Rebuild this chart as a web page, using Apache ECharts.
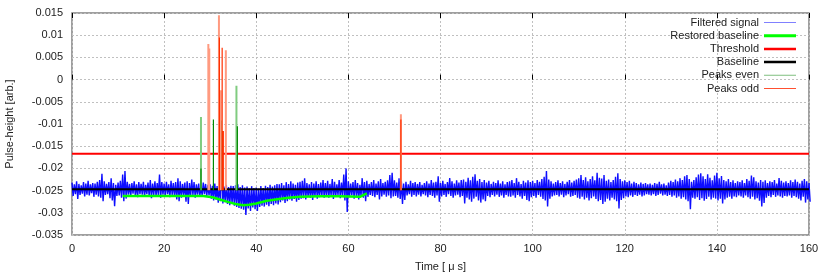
<!DOCTYPE html>
<html>
<head>
<meta charset="utf-8">
<script src="https://cdn.jsdelivr.net/npm/echarts@6/dist/echarts.min.js"></script>
<style>html,body{margin:0;padding:0;background:#fff}#c{width:830px;height:277px}</style>
</head>
<body>
<div id="c"></div>
<script>
// ---- data ----
const xTicks = [0, 20, 40, 60, 80, 100, 120, 140, 160];
const yTicks = [-0.035, -0.03, -0.025, -0.02, -0.015, -0.01, -0.005, 0, 0.005, 0.01, 0.015];
const sigStep = 0.5; // μs between envelope samples
// upper envelope of filtered signal, every 0.5 μs from 0 to 160
const sigHi = [
-0.0232,-0.0236,-0.0229,-0.0235,-0.0238,-0.0231,-0.0234,-0.0228,-0.0236,-0.0233,
-0.0234,-0.0230,-0.0226,-0.0212,-0.0229,-0.0235,-0.0231,-0.0222,-0.0233,-0.0237,
-0.0232,-0.0228,-0.0214,-0.0206,-0.0230,-0.0235,-0.0233,-0.0229,-0.0236,-0.0231,
-0.0235,-0.0230,-0.0237,-0.0232,-0.0226,-0.0234,-0.0229,-0.0233,-0.0214,-0.0231,
-0.0234,-0.0230,-0.0236,-0.0228,-0.0233,-0.0231,-0.0222,-0.0229,-0.0235,-0.0232,
-0.0229,-0.0233,-0.0225,-0.0231,-0.0236,-0.0234,-0.0238,-0.0232,-0.0235,-0.0237,
-0.0236,-0.0239,-0.0234,-0.0240,-0.0238,-0.0155,-0.0241,-0.0237,-0.0242,-0.0239,
-0.0240,-0.0238,-0.0236,-0.0242,-0.0238,-0.0243,-0.0241,-0.0245,-0.0240,-0.0244,
-0.0243,-0.0246,-0.0240,-0.0244,-0.0239,-0.0242,-0.0237,-0.0241,-0.0238,-0.0235,
-0.0236,-0.0233,-0.0238,-0.0231,-0.0235,-0.0229,-0.0234,-0.0237,-0.0232,-0.0230,
-0.0228,-0.0222,-0.0233,-0.0236,-0.0231,-0.0234,-0.0229,-0.0235,-0.0232,-0.0226,
-0.0233,-0.0228,-0.0235,-0.0224,-0.0230,-0.0236,-0.0226,-0.0232,-0.0214,-0.0200,
-0.0229,-0.0234,-0.0231,-0.0226,-0.0233,-0.0237,-0.0222,-0.0231,-0.0228,-0.0235,
-0.0231,-0.0226,-0.0234,-0.0229,-0.0224,-0.0233,-0.0230,-0.0227,-0.0215,-0.0210,
-0.0227,-0.0232,-0.0222,-0.0229,-0.0234,-0.0230,-0.0236,-0.0228,-0.0233,-0.0231,
-0.0235,-0.0231,-0.0237,-0.0233,-0.0229,-0.0234,-0.0226,-0.0232,-0.0230,-0.0218,
-0.0233,-0.0228,-0.0235,-0.0231,-0.0222,-0.0229,-0.0234,-0.0227,-0.0232,-0.0226,
-0.0225,-0.0230,-0.0221,-0.0227,-0.0219,-0.0213,-0.0228,-0.0224,-0.0231,-0.0226,
-0.0232,-0.0228,-0.0235,-0.0230,-0.0233,-0.0227,-0.0234,-0.0229,-0.0236,-0.0231,
-0.0229,-0.0226,-0.0233,-0.0222,-0.0230,-0.0235,-0.0228,-0.0232,-0.0227,-0.0231,
-0.0228,-0.0233,-0.0226,-0.0230,-0.0224,-0.0219,-0.0206,-0.0225,-0.0229,-0.0234,
-0.0231,-0.0227,-0.0233,-0.0229,-0.0235,-0.0230,-0.0226,-0.0232,-0.0228,-0.0225,
-0.0222,-0.0215,-0.0226,-0.0220,-0.0229,-0.0224,-0.0218,-0.0227,-0.0210,-0.0221,
-0.0223,-0.0215,-0.0228,-0.0225,-0.0231,-0.0226,-0.0219,-0.0211,-0.0224,-0.0229,
-0.0227,-0.0231,-0.0228,-0.0234,-0.0230,-0.0233,-0.0236,-0.0232,-0.0235,-0.0233,
-0.0236,-0.0234,-0.0237,-0.0233,-0.0235,-0.0230,-0.0236,-0.0234,-0.0238,-0.0232,
-0.0228,-0.0231,-0.0225,-0.0229,-0.0222,-0.0226,-0.0218,-0.0215,-0.0224,-0.0230,
-0.0226,-0.0220,-0.0214,-0.0211,-0.0218,-0.0224,-0.0213,-0.0221,-0.0227,-0.0216,
-0.0210,-0.0222,-0.0217,-0.0226,-0.0229,-0.0224,-0.0231,-0.0227,-0.0233,-0.0229,
-0.0231,-0.0227,-0.0233,-0.0224,-0.0228,-0.0216,-0.0220,-0.0229,-0.0232,-0.0226,
-0.0230,-0.0227,-0.0233,-0.0229,-0.0231,-0.0226,-0.0234,-0.0222,-0.0228,-0.0232,
-0.0229,-0.0233,-0.0227,-0.0231,-0.0225,-0.0230,-0.0234,-0.0228,-0.0224,-0.0229,-0.0233
];
// lower envelope of filtered signal, same sampling
const sigLo = [
-0.0262,-0.0258,-0.0269,-0.0260,-0.0257,-0.0263,-0.0259,-0.0261,-0.0256,-0.0264,
-0.0259,-0.0263,-0.0266,-0.0274,-0.0260,-0.0258,-0.0267,-0.0272,-0.0285,-0.0262,
-0.0261,-0.0266,-0.0274,-0.0268,-0.0259,-0.0263,-0.0257,-0.0262,-0.0265,-0.0258,
-0.0259,-0.0264,-0.0258,-0.0262,-0.0267,-0.0260,-0.0263,-0.0261,-0.0266,-0.0259,
-0.0262,-0.0258,-0.0265,-0.0260,-0.0263,-0.0270,-0.0274,-0.0266,-0.0261,-0.0275,
-0.0280,-0.0263,-0.0260,-0.0266,-0.0259,-0.0264,-0.0262,-0.0258,-0.0263,-0.0261,
-0.0268,-0.0272,-0.0270,-0.0277,-0.0274,-0.0279,-0.0276,-0.0280,-0.0283,-0.0279,
-0.0284,-0.0287,-0.0289,-0.0291,-0.0293,-0.0305,-0.0290,-0.0296,-0.0288,-0.0292,
-0.0296,-0.0287,-0.0284,-0.0286,-0.0282,-0.0285,-0.0280,-0.0283,-0.0279,-0.0281,
-0.0276,-0.0272,-0.0278,-0.0274,-0.0270,-0.0273,-0.0269,-0.0275,-0.0271,-0.0268,
-0.0267,-0.0270,-0.0264,-0.0266,-0.0271,-0.0263,-0.0268,-0.0265,-0.0262,-0.0266,
-0.0263,-0.0266,-0.0261,-0.0269,-0.0264,-0.0260,-0.0267,-0.0262,-0.0272,-0.0298,
-0.0265,-0.0261,-0.0268,-0.0263,-0.0270,-0.0262,-0.0266,-0.0274,-0.0264,-0.0260,
-0.0262,-0.0265,-0.0260,-0.0270,-0.0263,-0.0259,-0.0264,-0.0261,-0.0267,-0.0263,
-0.0262,-0.0266,-0.0269,-0.0280,-0.0271,-0.0261,-0.0258,-0.0264,-0.0260,-0.0263,
-0.0259,-0.0263,-0.0258,-0.0261,-0.0265,-0.0260,-0.0262,-0.0266,-0.0261,-0.0275,
-0.0263,-0.0260,-0.0264,-0.0258,-0.0262,-0.0266,-0.0261,-0.0259,-0.0265,-0.0262,
-0.0279,-0.0266,-0.0270,-0.0275,-0.0268,-0.0264,-0.0272,-0.0277,-0.0270,-0.0274,
-0.0262,-0.0265,-0.0260,-0.0263,-0.0259,-0.0264,-0.0261,-0.0266,-0.0260,-0.0263,
-0.0264,-0.0261,-0.0266,-0.0260,-0.0263,-0.0268,-0.0262,-0.0271,-0.0274,-0.0265,
-0.0262,-0.0266,-0.0260,-0.0264,-0.0269,-0.0272,-0.0286,-0.0268,-0.0263,-0.0261,
-0.0260,-0.0263,-0.0259,-0.0265,-0.0261,-0.0258,-0.0264,-0.0262,-0.0260,-0.0266,
-0.0268,-0.0264,-0.0270,-0.0266,-0.0272,-0.0267,-0.0263,-0.0269,-0.0274,-0.0271,
-0.0280,-0.0275,-0.0268,-0.0272,-0.0266,-0.0270,-0.0274,-0.0290,-0.0271,-0.0267,
-0.0263,-0.0265,-0.0261,-0.0264,-0.0260,-0.0262,-0.0259,-0.0263,-0.0261,-0.0258,
-0.0259,-0.0261,-0.0258,-0.0262,-0.0260,-0.0257,-0.0261,-0.0259,-0.0262,-0.0260,
-0.0264,-0.0261,-0.0266,-0.0263,-0.0268,-0.0265,-0.0270,-0.0274,-0.0292,-0.0266,
-0.0268,-0.0265,-0.0271,-0.0267,-0.0273,-0.0269,-0.0264,-0.0270,-0.0266,-0.0268,
-0.0272,-0.0268,-0.0279,-0.0270,-0.0266,-0.0264,-0.0268,-0.0263,-0.0265,-0.0261,
-0.0263,-0.0266,-0.0261,-0.0265,-0.0268,-0.0264,-0.0270,-0.0267,-0.0273,-0.0286,
-0.0278,-0.0266,-0.0262,-0.0265,-0.0260,-0.0264,-0.0261,-0.0263,-0.0266,-0.0262,
-0.0263,-0.0261,-0.0266,-0.0262,-0.0265,-0.0268,-0.0272,-0.0264,-0.0277,-0.0270,-0.0275
];
// restored baseline
const restT = [11, 20, 28.5, 30.5, 32.1, 34, 35.5, 37.1, 38.5, 40, 42.3, 45, 47, 49.5, 54, 58, 62.5, 64];
const restV = [-0.0262,-0.0262,-0.0262,-0.0265,-0.0270,-0.0276,-0.0280,-0.0283,-0.0282,-0.0279,-0.0273,-0.0269,-0.0266,-0.0264,-0.0263,-0.0263,-0.0264,-0.0256];
const thresholdV = -0.0167;
const baselineV = -0.0247;
const timeRange = [0, 160];
// peaks (impulses from baseline up to top)
const evenLightT = [28.0, 35.7];
const evenLightTop = [-0.0084, -0.0014];
const evenDarkT = [28.0, 30.7, 32.4, 35.9];
const evenDarkTop = [-0.0200, -0.0090, -0.0092, -0.0105];
const oddLightT = [29.6, 29.8, 31.9, 32.3, 33.4, 71.4];
const oddLightTop = [0.0080, 0.0070, 0.0145, -0.0024, 0.0066, -0.0078];
const oddDarkT = [32.0, 32.6, 32.85, 71.4];
const oddDarkTop = [0.0095, 0.0072, -0.0116, -0.0090];
const peakBase = -0.0249;

// ---- build ----
const sigData = [];
for (let i = 0; i < sigHi.length; i++) {
  sigData.push([i * sigStep, sigHi[i]]);
  sigData.push([i * sigStep + sigStep / 2, sigLo[i]]);
}
function impulses(ts, tops) {
  const d = [];
  ts.forEach((t, i) => { d.push([t, peakBase]); d.push([t, tops[i]]); d.push([t, '-']); });
  return d;
}
function lineIcon(t) {
  return 'path://M0,0L0.01,0ZM0,' + (5 - t / 2) + 'H32V' + (5 + t / 2) + 'H0ZM0,10L0.01,10Z';
}
const FONT = 'Liberation Sans';
const chart = echarts.init(document.getElementById('c'), null, {renderer: 'canvas'});
const fmt = v => String(parseFloat(Number(v).toFixed(4)));
chart.setOption({
  animation: false,
  textStyle: {fontFamily: FONT},
  grid: {left: 72, right: 21, top: 13, bottom: 42, outerBoundsMode: 'none', containLabel: false,
         show: true, borderColor: '#808080', borderWidth: 1.5, backgroundColor: 'transparent'},
  legend: {
    orient: 'vertical', right: 34, top: 16, padding: 0, itemGap: 0.2,
    align: 'right', itemWidth: 32, itemHeight: 10, selectedMode: false,
    textStyle: {fontFamily: FONT, fontSize: 11, color: '#222', lineHeight: 13},
    data: [
      {name: 'Filtered signal', icon: lineIcon(1), itemStyle: {color: '#8080ff'}},
      {name: 'Restored baseline', icon: lineIcon(3), itemStyle: {color: '#00ff00'}},
      {name: 'Threshold', icon: lineIcon(2.5), itemStyle: {color: '#ff0000'}},
      {name: 'Baseline', icon: lineIcon(2.5), itemStyle: {color: '#000000'}},
      {name: 'Peaks even', icon: lineIcon(1), itemStyle: {color: '#80c080'}},
      {name: 'Peaks odd', icon: lineIcon(1), itemStyle: {color: '#ff5030'}}
    ]
  },
  xAxis: [{
    type: 'value', min: xTicks[0], max: xTicks[xTicks.length - 1], interval: xTicks[1] - xTicks[0],
    position: 'bottom',
    name: 'Time [ μ s]', nameLocation: 'middle', nameGap: 26,
    nameTextStyle: {fontFamily: FONT, fontSize: 11, color: '#222'},
    axisLine: {show: false},
    axisTick: {show: true, inside: true, length: 5, lineStyle: {color: '#000'}},
    axisLabel: {fontFamily: FONT, fontSize: 11, color: '#222', margin: 8, formatter: fmt},
    splitLine: {show: true, lineStyle: {color: '#c0c0c0', type: [2, 2], width: 1}}
  }, {
    type: 'value', min: xTicks[0], max: xTicks[xTicks.length - 1], interval: xTicks[1] - xTicks[0],
    position: 'top', axisLine: {show: false},
    axisTick: {show: true, inside: true, length: 5, lineStyle: {color: '#000'}},
    axisLabel: {show: false}, splitLine: {show: false}
  }],
  yAxis: {
    type: 'value', min: yTicks[0], max: yTicks[yTicks.length - 1], interval: 0.005,
    name: 'Pulse-height [arb.]', nameLocation: 'middle', nameGap: 57,
    nameTextStyle: {fontFamily: FONT, fontSize: 11, color: '#222'},
    axisLine: {show: false}, axisTick: {show: false},
    axisLabel: {fontFamily: FONT, fontSize: 11, color: '#222', margin: 9, formatter: fmt},
    splitLine: {show: true, lineStyle: {color: '#c0c0c0', type: [2, 2], width: 1}}
  },
  series: [
    {name: 'Filtered signal', type: 'line', data: sigData, showSymbol: false, symbol: 'none', sampling: null,
     lineStyle: {color: '#0000ff', width: 1.4, opacity: 0.95}, itemStyle: {color: '#8080ff'}, z: 1},
    {name: 'Restored baseline', type: 'line', data: restT.map((t, i) => [t, restV[i]]), symbol: 'none',
     lineStyle: {color: '#00ff00', width: 2.5}, itemStyle: {color: '#00ff00'}, z: 2},
    {name: 'Threshold', type: 'line', data: timeRange.map(t => [t, thresholdV]), symbol: 'none',
     lineStyle: {color: '#ff0000', width: 2}, itemStyle: {color: '#ff0000'}, z: 3},
    {name: 'Baseline', type: 'line', data: timeRange.map(t => [t, baselineV]), symbol: 'none',
     lineStyle: {color: '#000000', width: 2}, itemStyle: {color: '#000'}, z: 4},
    {name: 'Peaks even', type: 'line', data: impulses(evenLightT, evenLightTop), symbol: 'none', connectNulls: false,
     lineStyle: {color: '#80cc80', width: 2}, itemStyle: {color: '#80c080'}, z: 5},
    {name: 'Peaks even', type: 'line', data: impulses(evenDarkT, evenDarkTop), symbol: 'none', connectNulls: false,
     lineStyle: {color: '#008a00', width: 1.2}, itemStyle: {color: '#80c080'}, z: 6},
    {name: 'Peaks odd', type: 'line', data: impulses(oddLightT, oddLightTop), symbol: 'none', connectNulls: false,
     lineStyle: {color: '#ff9a80', width: 2}, itemStyle: {color: '#ff5030'}, z: 7},
    {name: 'Peaks odd', type: 'line', data: impulses(oddDarkT, oddDarkTop), symbol: 'none', connectNulls: false,
     lineStyle: {color: '#ff3000', width: 1.2}, itemStyle: {color: '#ff5030'}, z: 8}
  ]
});
</script>
</body>
</html>
